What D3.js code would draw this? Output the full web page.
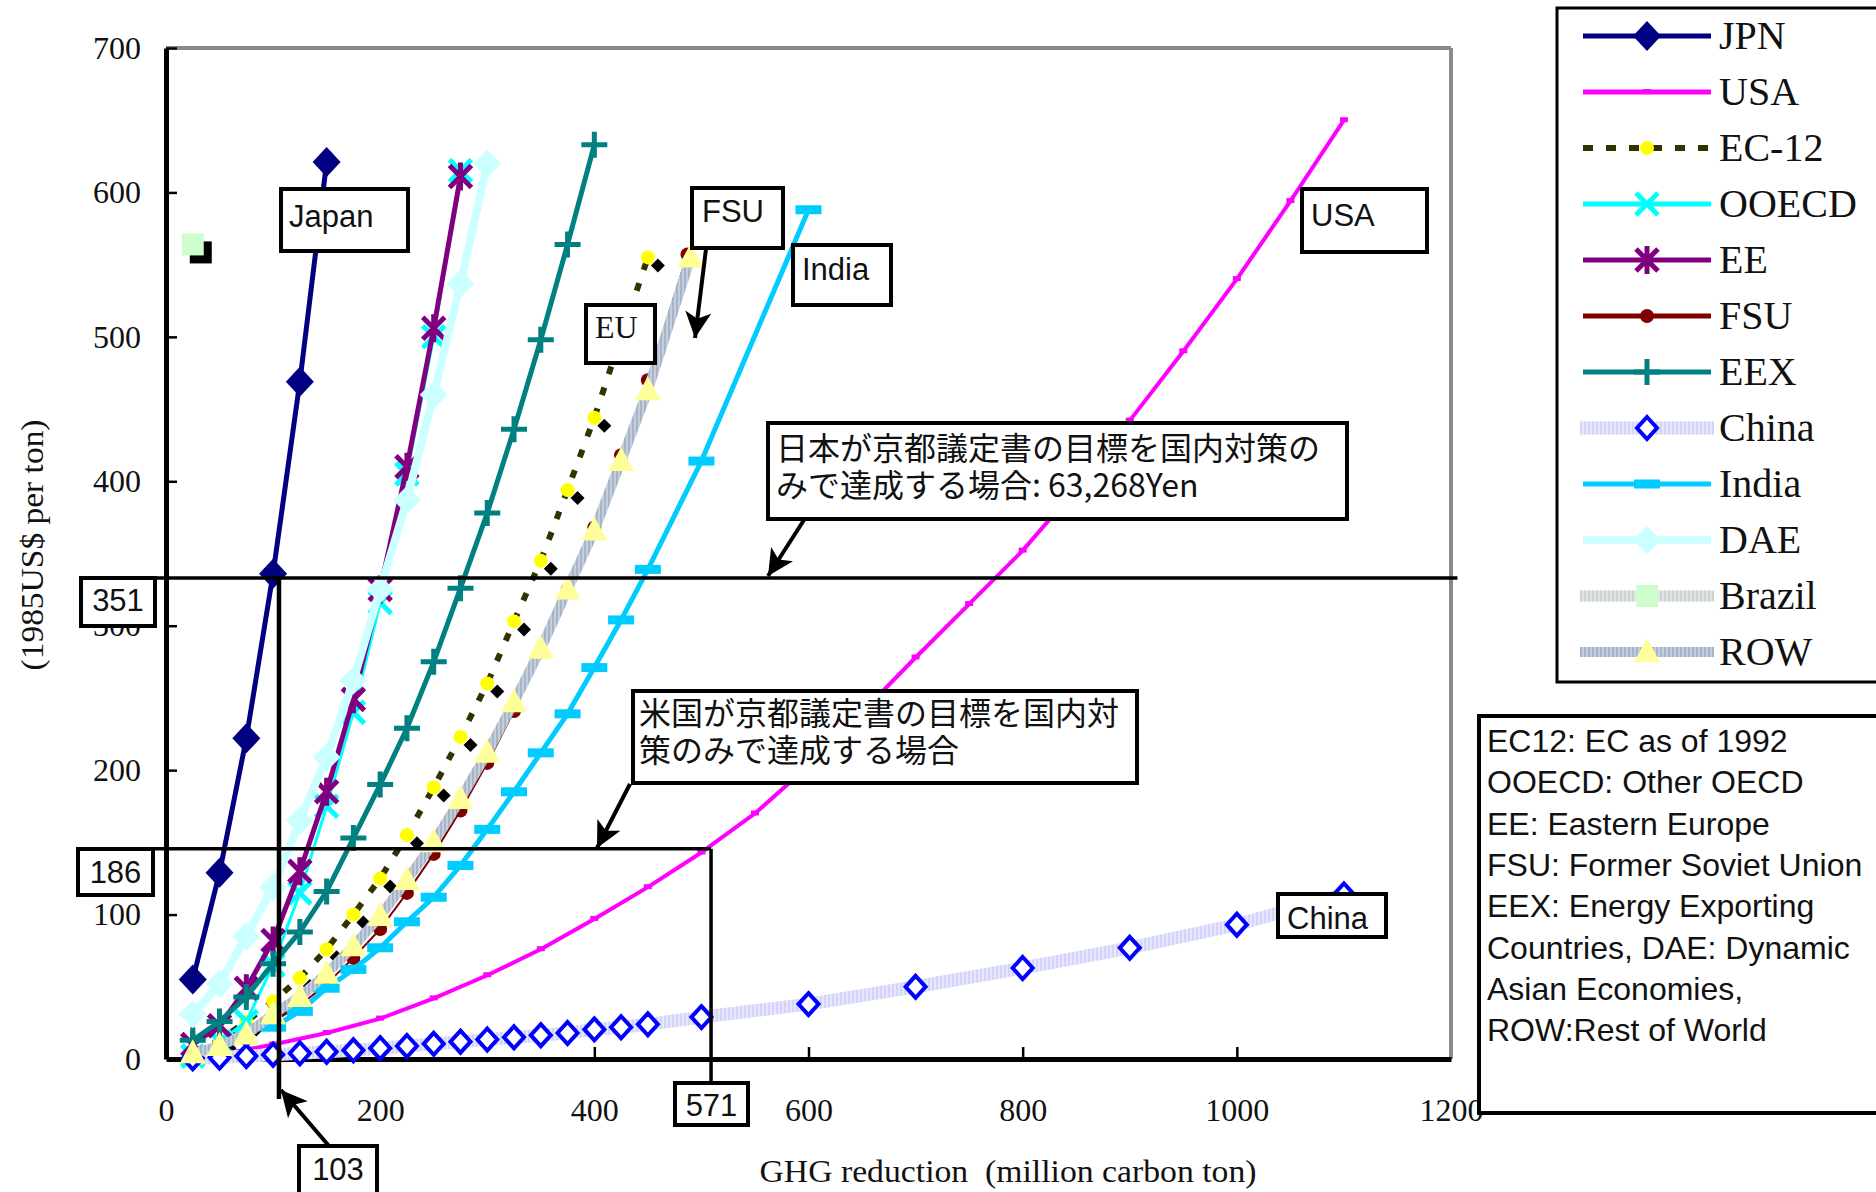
<!DOCTYPE html>
<html><head><meta charset="utf-8">
<script src="https://cdn.jsdelivr.net/npm/d3@7"></script>
<style>body{margin:0;background:#fff}svg{display:block}</style>
</head><body>
<svg id="c" width="1876" height="1192"></svg>
<script>
// ---------------- data ----------------
const xTicks = [0, 200, 400, 600, 800, 1000, 1200];
const yTicks = [0, 100, 200, 300, 400, 500, 600, 700];
const seriesNames = ["JPN","USA","EC-12","OOECD","EE","FSU","EEX","China","India","DAE","Brazil","ROW"];

const xJPN = [25, 50, 75, 100, 125, 150];
const yJPN = [55, 129, 222, 336, 469, 621];

const xUSA = [50,100,150,200,250,300,350,400,450,500,550,600,650,700,750,800,850,900,950,1000,1050,1100];
const yUSA = [3,10,18,28,42,58,76,97,119,143,170,203,240,278,315,352,395,442,490,540,594,650];

const xEC12 = [25,50,75,100,125,150,175,200,225,250,275,300,325,350,375,400,425,450];
const yEC12 = [5,13,26,40,56,76,100,125,155,188,223,260,303,345,394,444,500,555];

const xOOECD = [25,50,75,100,125,150,175,200,225,250,275];
const yOOECD = [2,12,26,65,115,175,240,316,405,500,615];

const xEE = [25,50,75,100,125,150,175,200,225,250,275];
const yEE = [10,23,49,82,130,185,249,325,410,506,611];

const xFSU = [25,50,75,100,125,150,175,200,225,250,275,300,325,350,375,400,425,450,487];
const yFSU = [3,7,14,26,37,52,70,90,115,142,172,205,241,282,325,368,418,470,557];

const xEEX = [25,50,75,100,125,150,175,200,225,250,275,300,325,350,375,400];
const yEEX = [13,26,43,66,88,116,153,190,229,275,326,378,436,498,564,633];

const xChina = [25,50,75,100,125,150,175,200,225,250,275,300,325,350,375,400,425,450,500,600,700,800,900,1000,1100];
const yChina = [0.5,1,2,3,4,5,6,7.5,9,10.5,12,13.5,15,16.5,18,20.5,22,24,29,38,50,63,77,93,114];

const xIndia = [100,125,150,175,200,225,250,275,300,325,350,375,400,425,450,500,600];
const yIndia = [22,33,49,62,77,95,112,134,159,185,212,239,271,304,339,414,588];

const xDAE = [25,50,75,100,125,150,175,200,225,250,275,300];
const yDAE = [31,52,85,119,165,209,262,325,387,460,537,620];

const xBrazil = [25];
const yBrazil = [564];

const xROW = [25,50,75,100,125,150,175,200,225,250,275,300,325,350,375,400,425,450,490];
const yROW = [4,9,17,31,43,59,78,99,124,150,180,212,247,284,325,366,414,463,555];

// guide values (as drawn)
const guideJapanCost = 333, guideJapanQty = 105.5;
const guideUSACost = 145.5, guideUSAQty = 509;
const guideLabels = {japanCost:"351", japanQty:"103", usaCost:"186", usaQty:"571"};

const noteJapan = ["日本が京都議定書の目標を国内対策の", "みで達成する場合: 63,268Yen"];
const noteUSA = ["米国が京都議定書の目標を国内対", "策のみで達成する場合"];
const footnote = ["EC12: EC as of 1992","OOECD: Other OECD","EE: Eastern Europe","FSU: Former Soviet Union","EEX: Energy Exporting","Countries, DAE: Dynamic","Asian Economies,","ROW:Rest of World"];
const xTitle = "GHG reduction  (million carbon ton)";
const yTitle = "(1985US$ per ton)";

const seriesData = {
  "JPN":[xJPN,yJPN], "USA":[xUSA,yUSA], "EC-12":[xEC12,yEC12], "OOECD":[xOOECD,yOOECD],
  "EE":[xEE,yEE], "FSU":[xFSU,yFSU], "EEX":[xEEX,yEEX], "China":[xChina,yChina],
  "India":[xIndia,yIndia], "DAE":[xDAE,yDAE], "Brazil":[xBrazil,yBrazil], "ROW":[xROW,yROW]
};

// ---------------- layout ----------------
const svg = d3.select("#c");
const x = d3.scaleLinear().domain([0,1200]).range([166,1451]);
const y = d3.scaleLinear().domain([0,700]).range([1059,48]);
const SERIF = "'Liberation Serif','Times New Roman',serif";
const SANS = "'Liberation Sans',Arial,sans-serif";
const CJK = "'Noto Sans CJK JP','Noto Sans',sans-serif";

const defs = svg.append("defs");
function hatch(id, c1, c2){
  const p = defs.append("pattern").attr("id",id).attr("patternUnits","userSpaceOnUse").attr("width",4).attr("height",4);
  p.append("rect").attr("width",4).attr("height",4).attr("fill",c1);
  p.append("rect").attr("width",2).attr("height",4).attr("fill",c2);
}
hatch("hChina","#e6e6ff","#d4d4fa");
hatch("hROW","#c4cedc","#a6b4c8");
hatch("hBrazil","#e2e6e2","#cdd3cd");
defs.append("marker").attr("id","arr").attr("viewBox","0 0 10 10").attr("refX",10).attr("refY",5)
  .attr("markerUnits","userSpaceOnUse").attr("markerWidth",28).attr("markerHeight",26).attr("orient","auto")
  .append("path").attr("d","M0,0L10,5L0,10L2.5,5Z").attr("fill","#000");

const style = {
  "JPN":{stroke:"#000080",w:5},
  "USA":{stroke:"#ff00ff",w:4},
  "EC-12":{stroke:"#333300",w:6,dash:"8,14"},
  "OOECD":{stroke:"#00ffff",w:3},
  "EE":{stroke:"#800080",w:5},
  "FSU":{stroke:"#800000",w:2},
  "EEX":{stroke:"#008080",w:5},
  "China":{stroke:"url(#hChina)",w:13},
  "India":{stroke:"#00ccff",w:5},
  "DAE":{stroke:"#ccffff",w:8},
  "Brazil":{stroke:"url(#hBrazil)",w:11},
  "ROW":{stroke:"url(#hROW)",w:10}
};

// plot frame
svg.append("line").attr("x1",x(0)).attr("x2",x(1200)).attr("y1",y(700)).attr("y2",y(700)).attr("stroke","#8a8a8a").attr("stroke-width",4);
svg.append("line").attr("x1",x(1200)).attr("x2",x(1200)).attr("y1",y(700)).attr("y2",y(0)).attr("stroke","#8a8a8a").attr("stroke-width",4);

// axes
const gx = svg.append("g").attr("transform",`translate(0,${y(0)})`)
  .call(d3.axisBottom(x).tickValues(xTicks).tickFormat(d3.format("d")).tickSizeInner(-12).tickSizeOuter(0).tickPadding(62));
const gy = svg.append("g").attr("transform",`translate(${x(0)},0)`)
  .call(d3.axisLeft(y).tickValues(yTicks).tickFormat(d3.format("d")).tickSizeInner(-11).tickSizeOuter(0).tickPadding(25));
[gx,gy].forEach(g=>{
  g.select(".domain").attr("stroke","#000").attr("stroke-width",5);
  g.selectAll(".tick line").attr("stroke","#000").attr("stroke-width",2.5);
  g.selectAll(".tick text").attr("font-family",SERIF).attr("font-size",32).attr("fill","#111");
});
gx.selectAll(".tick text").attr("dy",0);
gx.selectAll(".tick line").filter(d=>d===0||d===1200).remove();
gy.selectAll(".tick line").filter(d=>d===0).remove();

svg.append("text").attr("x",1008).attr("y",1182).attr("text-anchor","middle")
  .attr("font-family",SERIF).attr("font-size",32).attr("fill","#111")
  .attr("textLength",497).attr("lengthAdjust","spacingAndGlyphs").style("white-space","pre").text(xTitle);
svg.append("text").attr("transform","translate(43,545) rotate(-90)").attr("text-anchor","middle")
  .attr("font-family",SERIF).attr("font-size",32).attr("fill","#111")
  .attr("textLength",251).attr("lengthAdjust","spacingAndGlyphs").text(yTitle);

// markers
function drawMarker(g, name, cx, cy, legend){
  const t = `translate(${cx},${cy})`;
  switch(name){
    case "JPN": g.append("path").attr("transform",t).attr("d","M0,-15L14,0L0,15L-14,0Z").attr("fill","#000080"); break;
    case "USA": g.append("rect").attr("x",cx-4).attr("y",cy-3).attr("width",8).attr("height",5).attr("fill","#ff00ff"); break;
    case "EC-12":
      if(!legend) g.append("path").attr("transform",`translate(${cx+10},${cy+8})`).attr("d","M0,-7L7,0L0,7L-7,0Z").attr("fill","#000");
      g.append("circle").attr("cx",cx).attr("cy",cy).attr("r",7).attr("fill","#ffff00"); break;
    case "OOECD": g.append("path").attr("transform",t).attr("d","M-11,-11L11,11M-11,11L11,-11").attr("stroke","#00ffff").attr("stroke-width",5).attr("fill","none"); break;
    case "EE": g.append("path").attr("transform",t).attr("d","M-11,-11L11,11M-11,11L11,-11M0,-14L0,14").attr("stroke","#800080").attr("stroke-width",5).attr("fill","none"); break;
    case "FSU": g.append("circle").attr("cx",cx).attr("cy",cy).attr("r",7).attr("fill","#800000"); break;
    case "EEX": g.append("path").attr("transform",t).attr("d","M-13,0L13,0M0,-13L0,13").attr("stroke","#008080").attr("stroke-width",5).attr("fill","none"); break;
    case "China": g.append("path").attr("transform",t).attr("d","M0,-11L10,0L0,11L-10,0Z").attr("fill","#fff").attr("stroke","#0000ff").attr("stroke-width",4); break;
    case "India": g.append("rect").attr("x",cx-13).attr("y",cy-4.5).attr("width",26).attr("height",9).attr("fill","#00ccff"); break;
    case "DAE": g.append("path").attr("transform",t).attr("d","M0,-14L14,0L0,14L-14,0Z").attr("fill","#ccffff"); break;
    case "Brazil":
      if(!legend) g.append("rect").attr("x",cx-3).attr("y",cy-3).attr("width",22).attr("height",22).attr("fill","#000");
      g.append("rect").attr("x",cx-11).attr("y",cy-11).attr("width",22).attr("height",22).attr("fill","#ccffcc"); break;
    case "ROW": g.append("path").attr("transform",t).attr("d","M0,-14L13,10L-13,10Z").attr("fill","#ffff99"); break;
  }
}

// series
const line = d3.line().x(d=>x(d[0])).y(d=>y(d[1]));
const plot = svg.append("g");
seriesNames.forEach(name=>{
  const [xs,ys] = seriesData[name];
  const pts = xs.map((v,i)=>[v,ys[i]]);
  const st = style[name];
  const g = plot.append("g");
  if(pts.length>1){
    g.append("path").datum(pts).attr("d",line).attr("fill","none")
      .attr("stroke",st.stroke).attr("stroke-width",st.w).attr("stroke-linejoin","round")
      .attr("stroke-dasharray",st.dash||null);
  }
  pts.forEach(p=>drawMarker(g,name,x(p[0]),y(p[1]),false));
});

// guide lines
const ann = svg.append("g");
ann.append("line").attr("x1",x(-80)).attr("x2",x(1206)).attr("y1",y(guideJapanCost)).attr("y2",y(guideJapanCost)).attr("stroke","#000").attr("stroke-width",3.5);
ann.append("line").attr("x1",x(guideJapanQty)).attr("x2",x(guideJapanQty)).attr("y1",y(guideJapanCost)).attr("y2",1099).attr("stroke","#000").attr("stroke-width",4.5);
ann.append("line").attr("x1",x(-82)).attr("x2",x(guideUSAQty)).attr("y1",y(guideUSACost)).attr("y2",y(guideUSACost)).attr("stroke","#000").attr("stroke-width",3.5);
ann.append("line").attr("x1",x(guideUSAQty)).attr("x2",x(guideUSAQty)).attr("y1",y(guideUSACost)).attr("y2",1084).attr("stroke","#000").attr("stroke-width",3.5);

// arrows
function arrow(x1,y1,x2,y2){
  ann.append("line").attr("x1",x1).attr("y1",y1).attr("x2",x2).attr("y2",y2).attr("stroke","#000").attr("stroke-width",4).attr("marker-end","url(#arr)");
}
arrow(706,249,695,338);   // FSU
arrow(804,520,768,576);   // Japan note
arrow(630,784,597,848);   // USA note
arrow(329,1146,281,1090); // 103

// boxes
function box(bx,by,bw,bh,lines,font,size,tx,ty,lh,anchor){
  const g = ann.append("g");
  g.append("rect").attr("x",bx).attr("y",by).attr("width",bw).attr("height",bh).attr("fill","#fff").attr("stroke","#000").attr("stroke-width",4);
  lines.forEach((s,i)=>g.append("text").attr("x",tx).attr("y",ty+i*(lh||0)).attr("font-family",font).attr("font-size",size)
    .attr("fill","#111").attr("text-anchor",anchor||"start").text(s));
}
box(281,189,127,62,["Japan"],SANS,31,289,227);
box(586,305,69,58,["EU"],SERIF,32,595,338);
box(692,188,91,60,["FSU"],SANS,31,702,222);
box(793,245,98,60,["India"],SANS,31,802,280);
box(1302,189,125,63,["USA"],SANS,31,1311,226);
box(1278,894,108,43,["China"],SANS,31,1287,929);
box(81,578,74,48,[guideLabels.japanCost],SANS,31,118,611,0,"middle");
box(78,849,75,46,[guideLabels.usaCost],SANS,31,115.5,883,0,"middle");
box(299,1146,78,52,[guideLabels.japanQty],SANS,31,338,1180,0,"middle");
box(675,1083,73,42,[guideLabels.usaQty],SANS,31,711.5,1116,0,"middle");
box(768,423,579,96,noteJapan,CJK,32,776,460,37);
box(633,691,504,92,noteUSA,CJK,32,639,725,37);

// footnote box
box(1479,716,420,397,footnote,SANS,32,1487,752,41.3);

// legend
const lg = svg.append("g");
lg.append("rect").attr("x",1557).attr("y",8).attr("width",340).attr("height",674).attr("fill","#fff").attr("stroke","#000").attr("stroke-width",3);
seriesNames.forEach((name,i)=>{
  const cy = 36 + i*56.0;
  const st = style[name];
  const hatched = (name==="China"||name==="Brazil"||name==="ROW");
  lg.append("line").attr("x1",hatched?1580:1583).attr("x2",hatched?1714:1711).attr("y1",cy).attr("y2",cy)
    .attr("stroke",st.stroke).attr("stroke-width",hatched?st.w:Math.max(st.w,5)).attr("stroke-dasharray",st.dash?"10,13":null);
  drawMarker(lg,name,1647,cy,true);
  lg.append("text").attr("x",1719).attr("y",cy+13).attr("font-family",SERIF).attr("font-size",40).attr("fill","#111").text(name);
});
</script>
</body></html>
